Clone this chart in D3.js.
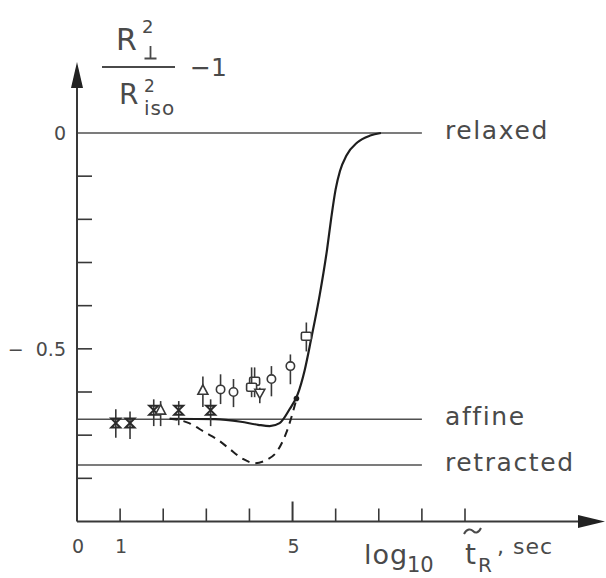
<!DOCTYPE html>
<html><head><meta charset="utf-8">
<script src="https://cdn.jsdelivr.net/npm/d3@7"></script>
<style>
html,body{margin:0;padding:0;background:#fff;}
svg{display:block;}
text{font-family:"DejaVu Sans",sans-serif;fill:#4a4a4a;}
</style></head>
<body>
<script>
// ---- data ----
const xTicks = [1, 2, 3, 4, 5, 6, 7, 8, 9];
const xTickLabels = [0, 1, 5];
const yTicks = [-0.1, -0.2, -0.3, -0.4, -0.5, -0.6, -0.7, -0.8];
const yTickLabels = [0, -0.5];
const refNames = ["relaxed", "affine", "retracted"];
const refValues = [0, -0.663, -0.769];

// theory curves [log10 t, value]
const solidX = [2.15, 3.2, 3.8, 4.2, 4.47, 4.7, 4.93, 5.12, 5.28, 5.43, 5.63, 5.8, 5.9, 6.0, 6.1, 6.25, 6.5, 6.8, 7.05];
const solidY = [-0.662, -0.663, -0.669, -0.676, -0.679, -0.672, -0.64, -0.605, -0.55, -0.478, -0.375, -0.27, -0.195, -0.13, -0.088, -0.052, -0.022, -0.006, 0];
const dashX = [2.15, 2.6, 2.96, 3.3, 3.54, 3.85, 4.12, 4.4, 4.63, 4.86, 5.09];
const dashY = [-0.662, -0.672, -0.693, -0.713, -0.732, -0.755, -0.765, -0.757, -0.739, -0.693, -0.617];
const dotX = [5.09];
const dotY = [-0.615];

// measurements with error bars
const crossX  = [0.90, 1.23, 1.78, 2.36, 3.10];
const crossY  = [-0.672, -0.672, -0.642, -0.642, -0.642];
const crossLo = [-0.706, -0.709, -0.679, -0.677, -0.679];
const crossHi = [-0.640, -0.645, -0.617, -0.621, -0.617];

const triX  = [1.94, 2.92];
const triY  = [-0.642, -0.596];
const triLo = [-0.679, -0.635];
const triHi = [-0.621, -0.564];

const triDownX  = [4.24];
const triDownY  = [-0.603];
const triDownLo = [-0.626];
const triDownHi = [-0.590];

const circX  = [3.33, 3.63, 4.51, 4.95];
const circY  = [-0.594, -0.600, -0.570, -0.540];
const circLo = [-0.628, -0.635, -0.610, -0.582];
const circHi = [-0.559, -0.570, -0.540, -0.513];

const sqX  = [4.12, 4.05, 5.32];
const sqY  = [-0.575, -0.589, -0.471];
const sqLo = [-0.612, -0.612, -0.506];
const sqHi = [-0.543, -0.543, -0.439];

// ---- drawing ----
const W = 606, H = 578;
const svg = d3.select("body").append("svg").attr("width", W).attr("height", H);

const x = d3.scaleLinear().domain([0, 9]).range([77, 465]);
const y = d3.scaleLinear().domain([0, -0.9]).range([133, 521.5]);
const ink = "#383838";

// reference levels
refValues.forEach((v, i) => {
  svg.append("line").attr("x1", x(0)).attr("x2", x(8)).attr("y1", y(v)).attr("y2", y(v))
    .attr("stroke", "#505050").attr("stroke-width", 1.6);
  svg.append("text").attr("x", 445).attr("y", y(v) + 6).attr("font-size", 25)
    .attr("letter-spacing", 1.6).text(refNames[i]);
});

// axes
svg.append("line").attr("x1", x(0)).attr("x2", 580).attr("y1", y(-0.9)).attr("y2", y(-0.9))
  .attr("stroke", ink).attr("stroke-width", 2);
svg.append("path").attr("d", `M578,${y(-0.9) - 6.5}L605,${y(-0.9)}L578,${y(-0.9) + 6.5}Z`).attr("fill", "#222");
svg.append("line").attr("x1", x(0)).attr("x2", x(0)).attr("y1", y(-0.9)).attr("y2", 86)
  .attr("stroke", ink).attr("stroke-width", 2);
svg.append("path").attr("d", `M${x(0) - 6},88L${x(0)},62L${x(0) + 6},88Z`).attr("fill", "#222");

xTicks.forEach(t => {
  svg.append("line").attr("x1", x(t)).attr("x2", x(t)).attr("y1", y(-0.9))
    .attr("y2", y(-0.9) - (t === 5 ? 20 : 13)).attr("stroke", ink).attr("stroke-width", t === 5 ? 2 : 1.6);
});
yTicks.forEach(t => {
  svg.append("line").attr("x1", x(0)).attr("x2", x(0) + 15).attr("y1", y(t)).attr("y2", y(t))
    .attr("stroke", ink).attr("stroke-width", 1.6);
});
xTickLabels.forEach(t => {
  svg.append("text").attr("x", x(t) + 1).attr("y", 553).attr("font-size", 19)
    .attr("text-anchor", "middle").text(t);
});
yTickLabels.forEach(t => {
  svg.append("text").attr("x", 66).attr("y", y(t) + 7).attr("font-size", 19)
    .attr("text-anchor", "end").attr("xml:space", "preserve")
    .text(t === 0 ? "0" : "\u2212  0.5");
});

// curves
const line = d3.line().x(d => x(d[0])).y(d => y(d[1])).curve(d3.curveMonotoneX);
svg.append("path").datum(solidX.map((v, i) => [v, solidY[i]])).attr("d", line)
  .attr("fill", "none").attr("stroke", "#1e1e1e").attr("stroke-width", 2.2);
svg.append("path").datum(dashX.map((v, i) => [v, dashY[i]])).attr("d", line)
  .attr("fill", "none").attr("stroke", "#1e1e1e").attr("stroke-width", 2)
  .attr("stroke-dasharray", "8,6");
dotX.forEach((v, i) => svg.append("circle").attr("cx", x(v)).attr("cy", y(dotY[i])).attr("r", 2.8).attr("fill", "#1e1e1e"));

// error bars + markers
function series(xs, ys, lo, hi, shape) {
  xs.forEach((v, i) => {
    const cx = x(v), cy = y(ys[i]);
    svg.append("line").attr("x1", cx).attr("x2", cx).attr("y1", y(lo[i])).attr("y2", y(hi[i]))
      .attr("stroke", ink).attr("stroke-width", 1.6);
    const g = svg.append("g").attr("transform", `translate(${cx},${cy})`);
    if (shape === "cross") {
      g.append("path").attr("d", "M-4.5,-4.5H4.5L-4.5,4.5H4.5Z")
        .attr("fill", "none").attr("stroke", "#2a2a2a").attr("stroke-width", 2);
    } else if (shape === "circle") {
      g.append("circle").attr("r", 4.2).attr("fill", "#fff").attr("stroke", ink).attr("stroke-width", 1.6);
    } else if (shape === "tri") {
      g.append("path").attr("d", "M0,-5.5L5,4L-5,4Z").attr("fill", "#fff").attr("stroke", ink).attr("stroke-width", 1.6);
    } else if (shape === "tridown") {
      g.append("path").attr("d", "M0,5L5,-4L-5,-4Z").attr("fill", "#fff").attr("stroke", ink).attr("stroke-width", 1.6);
    } else if (shape === "square") {
      g.append("rect").attr("x", -5).attr("y", -4).attr("width", 10).attr("height", 8).attr("rx", 1.5)
        .attr("fill", "#fff").attr("stroke", ink).attr("stroke-width", 1.6);
    }
  });
}
series(crossX, crossY, crossLo, crossHi, "cross");
series(triX, triY, triLo, triHi, "tri");
series(circX, circY, circLo, circHi, "circle");
series(sqX, sqY, sqLo, sqHi, "square");
series(triDownX, triDownY, triDownLo, triDownHi, "tridown");

// y-axis title: R⊥² / Riso² − 1
svg.append("text").attr("x", 116).attr("y", 50).attr("font-size", 30).text("R");
svg.append("text").attr("x", 142).attr("y", 33).attr("font-size", 18).text("2");
// perpendicular sign (⊥) drawn as strokes
svg.append("path").attr("d", "M150.5,46V58.5M144.5,58.5H156.5")
  .attr("fill", "none").attr("stroke", "#4a4a4a").attr("stroke-width", 1.8);
svg.append("line").attr("x1", 102).attr("x2", 175).attr("y1", 67).attr("y2", 67)
  .attr("stroke", "#4a4a4a").attr("stroke-width", 2);
svg.append("text").attr("x", 119).attr("y", 104).attr("font-size", 28).text("R");
svg.append("text").attr("x", 144).attr("y", 92).attr("font-size", 17).text("2");
svg.append("text").attr("x", 144).attr("y", 115).attr("font-size", 20).attr("letter-spacing", 1).text("iso");
svg.append("text").attr("x", 190).attr("y", 76).attr("font-size", 25).text("\u22121");

// x-axis title: log10 t̃R, sec
svg.append("text").attr("x", 364).attr("y", 564).attr("font-size", 27).attr("letter-spacing", 1).text("log");
svg.append("text").attr("x", 407).attr("y", 572).attr("font-size", 21).text("10");
svg.append("text").attr("x", 465).attr("y", 564).attr("font-size", 28).text("t");
svg.append("path").attr("d", "M464,534 C467,528 471,529 473,531 S478,534 481,528")
  .attr("fill", "none").attr("stroke", "#4a4a4a").attr("stroke-width", 2);
svg.append("text").attr("x", 478).attr("y", 572).attr("font-size", 20).text("R");
svg.append("text").attr("x", 497).attr("y", 554).attr("font-size", 22).attr("letter-spacing", 1).attr("xml:space", "preserve").text(", sec");
</script>
</body></html>
